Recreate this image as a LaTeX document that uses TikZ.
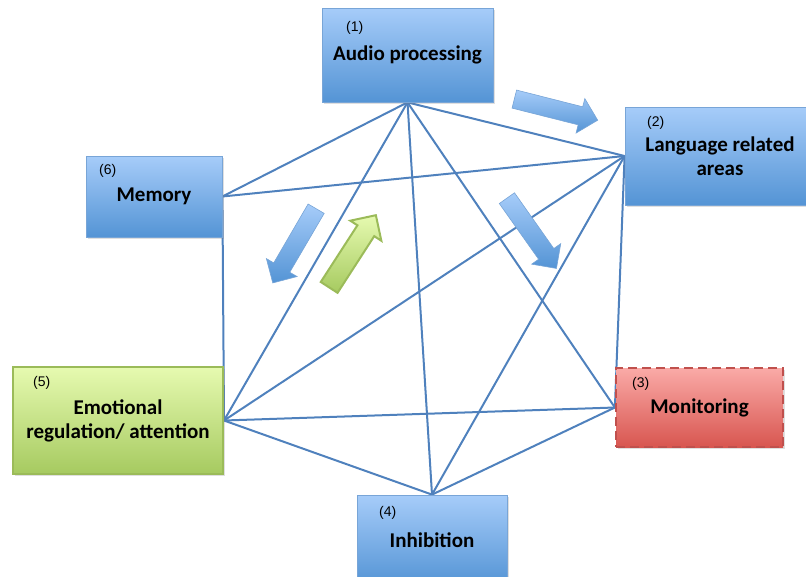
\documentclass[tikz,border=0pt]{standalone}
\usepackage{fontspec}
\setmainfont{Carlito}
\newfontfamily\numfont{Liberation Sans}
\usetikzlibrary{shapes.arrows,shadows}
\pgfdeclarelayer{bg}
\pgfsetlayers{bg,main}

\definecolor{linkblue}{RGB}{79,129,189}
\definecolor{bluetop}{RGB}{166,204,249}
\definecolor{bluebot}{RGB}{84,148,213}
\definecolor{blueedge}{RGB}{120,165,215}
\definecolor{greentop}{RGB}{230,250,176}
\definecolor{greenbot}{RGB}{166,202,96}
\definecolor{greenedge}{RGB}{155,187,89}
\definecolor{redtop}{RGB}{250,170,167}
\definecolor{redbot}{RGB}{216,86,80}
\definecolor{rededge}{RGB}{192,80,77}

\tikzset{
        area/.style={rectangle, inner sep=0pt, align=center,
                font=\bfseries\fontsize{21}{24}\selectfont,
                drop shadow={opacity=0.25, shadow xshift=1.5pt, shadow yshift=-2pt}},
        bluearea/.style={area, draw=blueedge, line width=0.8pt,
                top color=bluetop, bottom color=bluebot},
        greenarea/.style={area, draw=greenedge, line width=2pt,
                top color=greentop, bottom color=greenbot},
        redarea/.style={area, draw=rededge, line width=2.2pt, dash pattern=on 9pt off 5pt,
                top color=redtop, bottom color=redbot},
        num/.style={anchor=west, inner sep=0pt, font=\numfont\fontsize{14}{16}\selectfont},
        link/.style={draw=linkblue, line width=2pt},
        flow/.style={single arrow, inner sep=9pt, single arrow head extend=8.5pt,
                minimum height=86pt, draw=blueedge, line width=0.6pt,
                top color=bluetop, bottom color=bluebot},
        greenflow/.style={flow, draw=greenedge, line width=2pt,
                top color=greentop, bottom color=greenbot}
}

\begin{document}
\begin{tikzpicture}[x=1pt, y=-1pt]
        \path[use as bounding box, clip] (0,0) rectangle (806,576);
        \node (audio) [bluearea, minimum width=171pt, minimum height=94pt] at (407.5,55) {Audio processing};
        \node (lang) [bluearea, minimum width=190pt, minimum height=98pt] at (720,156) {Language related\\areas};
        \node (mon) [redarea, minimum width=167pt, minimum height=79pt] at (699.5,407.5) {Monitoring};
        \node (inh) [bluearea, minimum width=150pt, minimum height=90pt] at (432,540) {Inhibition};
        \node (emo) [greenarea, minimum width=210pt, minimum height=107pt] at (118,420.5) {Emotional\\regulation/ attention};
        \node (mem) [bluearea, minimum width=136pt, minimum height=81pt] at (154,196.5) {Memory};
        \node (n1) [num] at (346,28) {(1)};
        \node (n2) [num] at (647,123) {(2)};
        \node (n3) [num] at (632,384) {(3)};
        \node (n4) [num] at (379,513) {(4)};
        \node (n5) [num] at (33,383) {(5)};
        \node (n6) [num] at (99,171) {(6)};
        \node (f1) [flow, rotate=-14.2] at (551.5,108.5) {};
        \node (f2) [flow, rotate=-54.8] at (529,229.5) {};
        \node (f3) [flow, rotate=-120.3] at (296.8,241.8) {};
        \node (f4) [greenflow, rotate=57.1] at (349.8,255.5) {};
        \begin{pgfonlayer}{bg}
                \draw (audio.south) edge [link] (mem.east);
                \draw (audio.south) edge [link] (emo.east);
                \draw (audio.south) edge [link] (inh.north);
                \draw (audio.south) edge [link] (mon.west);
                \draw (audio.south) edge [link] (lang.west);
                \draw (lang.west) edge [link] (mem.east);
                \draw (lang.west) edge [link] (emo.east);
                \draw (lang.west) edge [link] (inh.north);
                \draw (lang.west) edge [link] (mon.west);
                \draw (mem.east) edge [link] (emo.east);
                \draw (emo.east) edge [link] (mon.west);
                \draw (emo.east) edge [link] (inh.north);
                \draw (mon.west) edge [link] (inh.north);
        \end{pgfonlayer}
\end{tikzpicture}
\end{document}
